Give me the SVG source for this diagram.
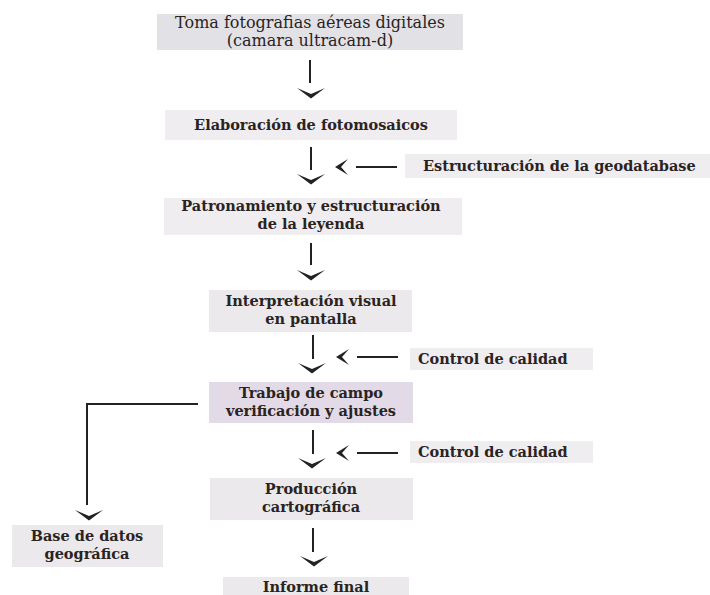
<svg xmlns="http://www.w3.org/2000/svg" width="710" height="595" viewBox="0 0 710 595">
<style>
.bg{fill:#ffffff}
.box{fill:#ebe9ec}
.box1{fill:#e2e2e6}
.boxl{fill:#efedf0}
.boxv{fill:#e3dae7}
text{font-family:"DejaVu Serif","Liberation Serif",serif;fill:#2a2322;font-size:14.5px;font-weight:bold;text-anchor:middle}
text.t1{font-weight:normal;font-size:16px}
text.st{text-anchor:start}
.ln{stroke:#222;stroke-width:2;fill:none}
.hd{fill:#222}
</style>
<defs>
<path id="chevDown" d="M-14,0 L0,6 L14,0 L0,10.5 Z"/>
<path id="chevLeft" d="M13,-8 L0,0 L13,8 L6,0 Z"/>
</defs>
<rect class="bg" x="0" y="0" width="710" height="595"/>
<g id="n1"><rect class="box1" x="157" y="14" width="306" height="36"/><text class="t1" x="310" y="28">Toma fotografias aéreas digitales</text><text class="t1" x="310" y="46">(camara ultracam-d)</text></g>
<g id="n2"><rect class="boxl" x="165" y="110" width="292" height="30"/><text x="311" y="130">Elaboración de fotomosaicos</text></g>
<g id="n3"><rect class="boxl" x="405" y="154" width="305" height="24"/><text class="st" x="423" y="171">Estructuración de la geodatabase</text></g>
<g id="n4"><rect class="boxl" x="164" y="198" width="298" height="37"/><text x="311" y="211">Patronamiento y estructuración</text><text x="311" y="229">de la leyenda</text></g>
<g id="n5"><rect class="box" x="209" y="290" width="203" height="42"/><text x="311" y="306">Interpretación visual</text><text x="311" y="324">en pantalla</text></g>
<g id="n6"><rect class="boxl" x="410" y="348" width="183" height="22"/><text class="st" x="418" y="364">Control de calidad</text></g>
<g id="n7"><rect class="boxv" x="209" y="382" width="204" height="41"/><text x="311" y="398">Trabajo de campo</text><text x="311" y="416">verificación y ajustes</text></g>
<g id="n8"><rect class="boxl" x="410" y="441" width="183" height="22"/><text class="st" x="418" y="457">Control de calidad</text></g>
<g id="n9"><rect class="box" x="210" y="478" width="203" height="42"/><text x="311" y="494">Producción</text><text x="311" y="512">cartográfica</text></g>
<g id="n10"><rect class="box" x="12" y="525" width="151" height="42"/><text x="87" y="541">Base de datos</text><text x="87" y="559">geográfica</text></g>
<g id="n11"><rect class="box" x="223" y="577" width="186" height="22"/><text x="316" y="592">Informe final</text></g>
<g id="connectors">
<line class="ln" x1="310" y1="60" x2="310" y2="83"/><use href="#chevDown" class="hd" x="311" y="88"/>
<line class="ln" x1="311" y1="147" x2="311" y2="170"/><use href="#chevDown" class="hd" x="311" y="174"/>
<line class="ln" x1="356" y1="167" x2="397" y2="167"/><use href="#chevLeft" class="hd" x="335" y="167"/>
<line class="ln" x1="311" y1="243" x2="311" y2="265"/><use href="#chevDown" class="hd" x="311" y="270"/>
<line class="ln" x1="313" y1="335" x2="313" y2="359"/><use href="#chevDown" class="hd" x="312" y="363"/>
<line class="ln" x1="357" y1="357" x2="398" y2="357"/><use href="#chevLeft" class="hd" x="336" y="357"/>
<line class="ln" x1="313" y1="430" x2="313" y2="454"/><use href="#chevDown" class="hd" x="312" y="458"/>
<line class="ln" x1="357" y1="453" x2="398" y2="453"/><use href="#chevLeft" class="hd" x="336" y="453"/>
<polyline class="ln" points="198,404 87,404 87,505"/><use href="#chevDown" class="hd" x="89" y="510"/>
<line class="ln" x1="313" y1="528" x2="313" y2="552"/><use href="#chevDown" class="hd" x="314" y="556"/>
</g>
</svg>
